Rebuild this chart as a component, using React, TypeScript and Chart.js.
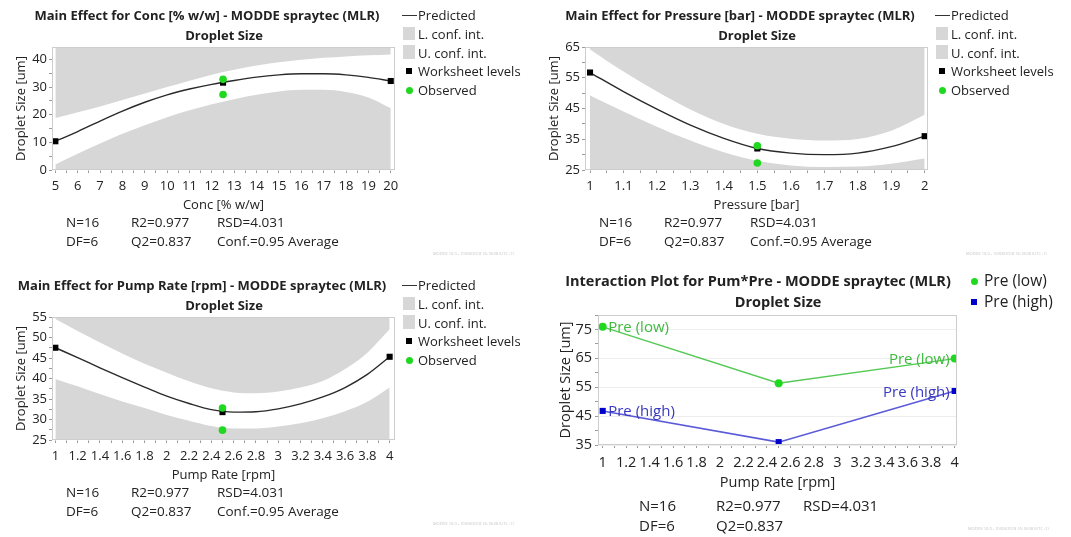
import React, { useEffect, useRef } from "react";
import { Chart, registerables } from "chart.js";

Chart.register(...registerables);

const FONT = "'Open Sans', 'Noto Sans', 'DejaVu Sans', sans-serif";
const GRAY = "#d7d7d7";
const TXT = "#222222";
const GREEN_PT = "#1fd81f";

// ---------------- data ----------------
// Conc [% w/w]
const concX = [5, 6, 7, 8, 9, 10, 11, 12, 13, 14, 15, 16, 17, 18, 19, 20];
const concPred = [10.4, 13.9, 17.7, 21.3, 24.5, 27.2, 29.3, 31.0, 32.4, 33.6, 34.4, 34.8, 34.8, 34.4, 33.5, 32.2];
const concUpper = [18.8, 20.9, 23.0, 25.3, 27.7, 30.0, 32.3, 34.5, 36.3, 37.8, 39.0, 39.9, 40.6, 41.1, 41.5, 41.8];
const concLower = [2.0, 5.9, 9.6, 13.1, 16.2, 19.1, 21.6, 23.8, 25.6, 27.2, 28.4, 29.0, 29.0, 28.2, 26.2, 22.3];
const concLevelX = [5, 12.5, 20];
const concLevelY = [10.4, 31.6, 32.2];
const concObsX = [12.5, 12.5];
const concObsY = [32.8, 27.3];
const concXTicks = [5, 6, 7, 8, 9, 10, 11, 12, 13, 14, 15, 16, 17, 18, 19, 20];
const concYTicks = [0, 10, 20, 30, 40];

// Pressure [bar]
const pressX = [1, 1.1, 1.2, 1.3, 1.4, 1.5, 1.6, 1.7, 1.8, 1.9, 2];
const pressPred = [56.7, 50.5, 44.8, 39.6, 35.3, 32.0, 30.5, 30.0, 30.5, 32.6, 36.0];
const pressUpper = [64.2, 57.0, 50.5, 44.7, 40.0, 36.8, 35.2, 34.6, 35.1, 37.8, 43.0];
const pressLower = [49.2, 44.0, 39.1, 34.6, 30.8, 28.0, 26.5, 26.0, 26.1, 27.0, 28.7];
const pressLevelX = [1, 1.5, 2];
const pressLevelY = [56.7, 32.0, 36.0];
const pressObsX = [1.5, 1.5];
const pressObsY = [32.9, 27.3];
const pressXTicks = [1, 1.1, 1.2, 1.3, 1.4, 1.5, 1.6, 1.7, 1.8, 1.9, 2];
const pressYTicks = [25, 35, 45, 55, 65];

// Pump Rate [rpm]
const pumpX = [1, 1.2, 1.4, 1.6, 1.8, 2, 2.2, 2.4, 2.6, 2.8, 3, 3.2, 3.4, 3.6, 3.8, 4];
const pumpPred = [47.5, 45.1, 42.6, 40.2, 37.9, 35.7, 33.9, 32.4, 31.8, 31.9, 32.6, 33.8, 35.5, 37.8, 41.0, 45.3];
const pumpUpper = [54.5, 51.6, 48.8, 46.1, 43.6, 41.4, 39.3, 37.6, 36.6, 36.4, 36.8, 37.8, 39.4, 42.3, 46.3, 52.0];
const pumpLower = [39.9, 38.1, 36.2, 34.4, 32.8, 31.1, 29.7, 28.4, 27.8, 27.8, 28.3, 29.1, 30.3, 32.0, 34.3, 37.8];
const pumpLevelX = [1, 2.5, 4];
const pumpLevelY = [47.5, 31.8, 45.3];
const pumpObsX = [2.5, 2.5];
const pumpObsY = [32.8, 27.4];
const pumpXTicks = [1, 1.2, 1.4, 1.6, 1.8, 2, 2.2, 2.4, 2.6, 2.8, 3, 3.2, 3.4, 3.6, 3.8, 4];
const pumpYTicks = [25, 30, 35, 40, 45, 50, 55];

// Interaction Pum*Pre
const interX = [1, 2.5, 4];
const preLow = [75.9, 56.4, 64.9];
const preHigh = [46.8, 36.0, 53.7];
const interYTicks = [35, 45, 55, 65, 75];

// texts
const legendLabels = ["Predicted", "L. conf. int.", "U. conf. int.", "Worksheet levels", "Observed"];
const interLegend = ["Pre (low)", "Pre (high)"];
const statsRow1 = ["N=16", "R2=0.977", "RSD=4.031"];
const statsRow2 = ["DF=6", "Q2=0.837", "Conf.=0.95 Average"];
const statsRow2Inter = ["DF=6", "Q2=0.837"];
const subtitle = "Droplet Size";
const yTitle = "Droplet Size [um]";

// ---------------- helpers ----------------
type Pt = { x: number; y: number };
const pts = (xs: number[], ys: number[]): Pt[] => xs.map((x, i) => ({ x, y: ys[i] }));

function buildTicks(majors: number[], min: number, max: number) {
  const out: { value: number }[] = [];
  for (let i = 0; i < majors.length; i++) {
    out.push({ value: majors[i] });
    if (i < majors.length - 1) out.push({ value: (majors[i] + majors[i + 1]) / 2 });
  }
  const step = majors.length > 1 ? majors[1] - majors[0] : 1;
  const before = majors[0] - step / 2;
  const after = majors[majors.length - 1] + step / 2;
  if (before >= min) out.unshift({ value: before });
  if (after <= max) out.push({ value: after });
  return out;
}
const isMajor = (majors: number[], v: number) => majors.some((m) => Math.abs(m - v) < 1e-9);

const framePlugin = {
  id: "frame",
  afterDraw(chart: any) {
    const { ctx, chartArea: a } = chart;
    ctx.save();
    ctx.strokeStyle = "#cdcdcd";
    ctx.lineWidth = 1;
    ctx.strokeRect(Math.round(a.left) + 0.5, Math.round(a.top) + 0.5, Math.round(a.width) - 1, Math.round(a.height) - 1);
    ctx.restore();
  },
};

type TProps = { x: number; y: number; text: string; size?: number; bold?: boolean; anchor?: "start" | "middle" | "end"; color?: string };
function T({ x, y, text, size = 13, bold = false, anchor = "start", color = TXT }: TProps) {
  const tx = anchor === "middle" ? "-50%" : anchor === "end" ? "-100%" : "0";
  return (
    <div
      style={{
        position: "absolute",
        left: x,
        top: y,
        transform: `translate(${tx}, -50%)`,
        fontSize: size,
        fontWeight: bold ? 700 : 400,
        color,
        whiteSpace: "nowrap",
        lineHeight: 1,
        fontFamily: FONT,
      }}
    >
      {text}
    </div>
  );
}

function Watermark({ x, y }: { x: number; y: number }) {
  return (
    <div style={{ position: "absolute", left: x, top: y, fontSize: 8, color: "#c4c4c4", whiteSpace: "nowrap", fontFamily: FONT, transform: "scale(0.5)", transformOrigin: "0 0", lineHeight: 1 }}>
      MODDE 10.0 - 10/08/2018 16:18:38 (UTC+1)
    </div>
  );
}

function axisCommon(majors: number[], min: number, max: number, isX: boolean, gridOnTop: string, fontSize: number) {
  return {
    type: "linear" as const,
    min,
    max,
    afterBuildTicks: (s: any) => {
      s.ticks = buildTicks(majors, min, max);
    },
    ticks: {
      autoSkip: false,
      maxRotation: 0,
      padding: isX ? 5 : 2,
      color: TXT,
      font: { size: fontSize, family: FONT },
      callback: (v: any) => (isMajor(majors, Number(v)) ? String(v) : ""),
    },
    grid: {
      drawOnChartArea: !isX,
      tickLength: 3,
      tickColor: "#9a9a9a",
      color: (c: any) => (c.tick && isMajor(majors, c.tick.value) ? gridOnTop : "rgba(0,0,0,0)"),
    },
    border: { display: false },
  };
}

// ---------------- Main effect panel ----------------
type MEProps = {
  dx: number;
  dy: number;
  title: string;
  titleCx: number;
  xTitle: string;
  xs: number[];
  pred: number[];
  upper: number[];
  lower: number[];
  levelX: number[];
  levelY: number[];
  obsX: number[];
  obsY: number[];
  xTicks: number[];
  yTicks: number[];
  xMin: number;
  xMax: number;
  yMin: number;
  yMax: number;
};

function MainEffect(p: MEProps) {
  const ref = useRef<HTMLCanvasElement>(null);
  useEffect(() => {
    const xAxis: any = axisCommon(p.xTicks, p.xMin, p.xMax, true, "#999", 13);
    xAxis.afterFit = (s: any) => {
      s.height = 45;
    };
    xAxis.title = { display: true, text: p.xTitle, color: TXT, font: { size: 13, family: FONT }, padding: { top: 0, bottom: 2 } };
    const yAxis: any = axisCommon(p.yTicks, p.yMin, p.yMax, false, "rgba(255,255,255,0.5)", 13);
    yAxis.afterFit = (s: any) => {
      s.width = 52;
    };
    yAxis.z = 1;
    yAxis.title = { display: true, text: yTitle, color: TXT, font: { size: 13, family: FONT }, padding: { top: 13, bottom: 0 } };

    const chart = new Chart(ref.current as HTMLCanvasElement, {
      type: "line",
      data: {
        datasets: [
          { label: legendLabels[4], data: pts(p.obsX, p.obsY), showLine: false, pointStyle: "circle", pointRadius: 3.8, backgroundColor: GREEN_PT, borderWidth: 0 } as any,
          { label: legendLabels[3], data: pts(p.levelX, p.levelY), showLine: false, pointStyle: "rect", pointRadius: 4.3, backgroundColor: "#000", borderWidth: 0 },
          { label: legendLabels[0], data: pts(p.xs, p.pred), borderColor: "#2a2a2a", borderWidth: 1.4, pointRadius: 0, fill: false, cubicInterpolationMode: "monotone" },
          { label: legendLabels[1], data: pts(p.xs, p.lower), borderWidth: 0, pointRadius: 0, fill: "start", backgroundColor: GRAY, borderColor: GRAY, cubicInterpolationMode: "monotone" },
          { label: legendLabels[2], data: pts(p.xs, p.upper), borderWidth: 0, pointRadius: 0, fill: "end", backgroundColor: GRAY, borderColor: GRAY, cubicInterpolationMode: "monotone" },
        ],
      },
      options: {
        responsive: false,
        animation: false,
        devicePixelRatio: 1,
        layout: { padding: { top: 47, right: 15, left: 0, bottom: 0 } },
        plugins: { legend: { display: false }, tooltip: { enabled: false } },
        scales: { x: xAxis, y: yAxis },
      },
      plugins: [framePlugin],
    });
    return () => chart.destroy();
  }, []);

  const { dx, dy } = p;
  return (
    <>
      <canvas ref={ref} width={410} height={215} style={{ position: "absolute", left: dx, top: dy, width: 410, height: 215 }} />
      <T x={dx + p.titleCx} y={dy + 15} text={p.title} bold size={13} anchor="middle" />
      <T x={dx + 224} y={dy + 35} text={subtitle} bold size={13} anchor="middle" />
      {/* legend */}
      <div style={{ position: "absolute", left: dx + 402, top: dy + 14.5, width: 15, height: 1.5, background: "#333" }} />
      <T x={dx + 418} y={dy + 15} text={legendLabels[0]} />
      <div style={{ position: "absolute", left: dx + 403, top: dy + 27, width: 12, height: 13, background: GRAY }} />
      <T x={dx + 418} y={dy + 33.5} text={legendLabels[1]} />
      <div style={{ position: "absolute", left: dx + 403, top: dy + 45, width: 12, height: 14, background: GRAY }} />
      <T x={dx + 418} y={dy + 52.5} text={legendLabels[2]} />
      <div style={{ position: "absolute", left: dx + 406, top: dy + 68, width: 6, height: 6, background: "#000" }} />
      <T x={dx + 418} y={dy + 71} text={legendLabels[3]} />
      <div style={{ position: "absolute", left: dx + 405.5, top: dy + 86.5, width: 7, height: 7, borderRadius: "50%", background: GREEN_PT }} />
      <T x={dx + 418} y={dy + 90} text={legendLabels[4]} />
      {/* stats */}
      <T x={dx + 66} y={dy + 223} text={statsRow1[0]} size={13.5} />
      <T x={dx + 131} y={dy + 223} text={statsRow1[1]} size={13.5} />
      <T x={dx + 217} y={dy + 223} text={statsRow1[2]} size={13.5} />
      <T x={dx + 66} y={dy + 242} text={statsRow2[0]} size={13.5} />
      <T x={dx + 131} y={dy + 242} text={statsRow2[1]} size={13.5} />
      <T x={dx + 217} y={dy + 242} text={statsRow2[2]} size={13.5} />
      <Watermark x={dx + 433} y={dy + 251} />
    </>
  );
}

// ---------------- Interaction panel ----------------
const pointLabelPlugin = {
  id: "pointLabels",
  afterDatasetsDraw(chart: any) {
    const { ctx } = chart;
    chart.data.datasets.forEach((ds: any, i: number) => {
      const meta = chart.getDatasetMeta(i);
      const first = meta.data[0];
      const last = meta.data[meta.data.length - 1];
      ctx.save();
      ctx.font = `15px ${FONT}`;
      ctx.fillStyle = ds.textColor;
      ctx.textBaseline = "middle";
      ctx.textAlign = "left";
      ctx.fillText(ds.label, first.x + 5.5, first.y + 1);
      ctx.textAlign = "right";
      ctx.fillText(ds.label, last.x - 5, last.y + 1.5);
      ctx.restore();
    });
  },
};

function Interaction() {
  const ref = useRef<HTMLCanvasElement>(null);
  const dx = 545;
  const dy = 270;
  useEffect(() => {
    const xAxis: any = axisCommon(pumpXTicks, 0.96, 4.02, true, "#999", 14.5);
    xAxis.afterFit = (s: any) => {
      s.height = 47;
    };
    xAxis.ticks.padding = 6;
    xAxis.title = { display: true, text: "Pump Rate [rpm]", color: TXT, font: { size: 14.5, family: FONT }, padding: { top: 0, bottom: 0 } };
    const yAxis: any = axisCommon(interYTicks, 35, 80, false, "#eeeeee", 14.5);
    yAxis.afterFit = (s: any) => {
      s.width = 53;
    };
    yAxis.ticks.padding = 3;
    yAxis.title = { display: true, text: yTitle, color: TXT, font: { size: 14.5, family: FONT }, padding: { top: 12, bottom: 0 } };

    const chart = new Chart(ref.current as HTMLCanvasElement, {
      type: "line",
      data: {
        datasets: [
          { label: interLegend[0], data: pts(interX, preLow), borderColor: "#55c955", borderWidth: 1.5, pointStyle: "circle", pointRadius: 4, backgroundColor: GREEN_PT, pointBorderWidth: 0, tension: 0, textColor: "#3dbb3d" } as any,
          { label: interLegend[1], data: pts(interX, preHigh), borderColor: "#5a5ad8", borderWidth: 1.5, pointStyle: "rect", pointRadius: 4.3, backgroundColor: "#0000cc", pointBorderWidth: 0, tension: 0, textColor: "#3838c0" } as any,
        ],
      },
      options: {
        responsive: false,
        animation: false,
        devicePixelRatio: 1,
        layout: { padding: { top: 45, right: 8, left: 0, bottom: 0 } },
        plugins: { legend: { display: false }, tooltip: { enabled: false } },
        scales: { x: xAxis, y: yAxis },
      },
      plugins: [framePlugin, pointLabelPlugin],
    });
    return () => chart.destroy();
  }, []);

  return (
    <>
      <canvas ref={ref} width={420} height={222} style={{ position: "absolute", left: dx, top: dy, width: 420, height: 222 }} />
      <T x={758} y={281} text="Interaction Plot for Pum*Pre - MODDE spraytec (MLR)" bold size={14.5} anchor="middle" />
      <T x={778} y={302} text={subtitle} bold size={14.5} anchor="middle" />
      <div style={{ position: "absolute", left: 970.5, top: 277.5, width: 7, height: 7, borderRadius: "50%", background: GREEN_PT }} />
      <T x={984} y={281} text={interLegend[0]} size={15.5} />
      <div style={{ position: "absolute", left: 971, top: 299, width: 6, height: 6, background: "#0000cc" }} />
      <T x={984} y={302} text={interLegend[1]} size={15.5} />
      <T x={639} y={505} text={statsRow1[0]} size={15} />
      <T x={716} y={505} text={statsRow1[1]} size={15} />
      <T x={803} y={505} text={statsRow1[2]} size={15} />
      <T x={639} y={525} text={statsRow2Inter[0]} size={15} />
      <T x={716} y={525} text={statsRow2Inter[1]} size={15} />
      <Watermark x={968} y={526} />
    </>
  );
}

export default function App() {
  return (
    <div style={{ position: "fixed", left: 0, top: 0, width: 1071, height: 537, background: "#fff", overflow: "hidden", fontFamily: FONT }}>
      <MainEffect
        dx={0}
        dy={0}
        title="Main Effect for Conc [% w/w] - MODDE spraytec (MLR)"
        titleCx={207}
        xTitle="Conc [% w/w]"
        xs={concX}
        pred={concPred}
        upper={concUpper}
        lower={concLower}
        levelX={concLevelX}
        levelY={concLevelY}
        obsX={concObsX}
        obsY={concObsY}
        xTicks={concXTicks}
        yTicks={concYTicks}
        xMin={4.85}
        xMax={20.19}
        yMin={0}
        yMax={44.5}
      />
      <MainEffect
        dx={533}
        dy={0}
        title="Main Effect for Pressure [bar] - MODDE spraytec (MLR)"
        titleCx={207}
        xTitle="Pressure [bar]"
        xs={pressX}
        pred={pressPred}
        upper={pressUpper}
        lower={pressLower}
        levelX={pressLevelX}
        levelY={pressLevelY}
        obsX={pressObsX}
        obsY={pressObsY}
        xTicks={pressXTicks}
        yTicks={pressYTicks}
        xMin={0.985}
        xMax={2.01}
        yMin={25}
        yMax={65}
      />
      <MainEffect
        dx={0}
        dy={270}
        title="Main Effect for Pump Rate [rpm] - MODDE spraytec (MLR)"
        titleCx={202}
        xTitle="Pump Rate [rpm]"
        xs={pumpX}
        pred={pumpPred}
        upper={pumpUpper}
        lower={pumpLower}
        levelX={pumpLevelX}
        levelY={pumpLevelY}
        obsX={pumpObsX}
        obsY={pumpObsY}
        xTicks={pumpXTicks}
        yTicks={pumpYTicks}
        xMin={0.97}
        xMax={4.048}
        yMin={25}
        yMax={55}
      />
      <Interaction />
    </div>
  );
}
